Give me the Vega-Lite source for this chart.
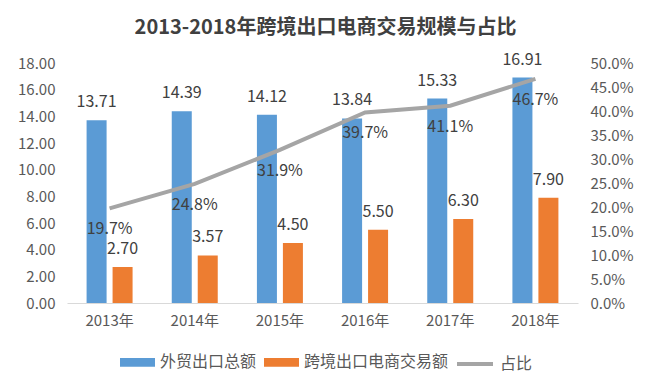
{
  "$schema": "https://vega.github.io/schema/vega-lite/v6.json",
  "width": 511,
  "height": 240,
  "autosize": {"type": "none"},
  "padding": {"left": 67, "top": 63, "right": 72, "bottom": 88},
  "background": "white",
  "title": {
    "text": "2013-2018年跨境出口电商交易规模与占比",
    "fontSize": 20,
    "fontWeight": "bold",
    "color": "#404040",
    "font": "Noto Sans CJK SC",
    "anchor": "middle",
    "offset": 14,
    "dx": 3
  },
  "datasets": {
    "bars": [
      {"year": "2013年", "series": "外贸出口总额", "value": 13.71},
      {"year": "2014年", "series": "外贸出口总额", "value": 14.39},
      {"year": "2015年", "series": "外贸出口总额", "value": 14.12},
      {"year": "2016年", "series": "外贸出口总额", "value": 13.84},
      {"year": "2017年", "series": "外贸出口总额", "value": 15.33},
      {"year": "2018年", "series": "外贸出口总额", "value": 16.91},
      {"year": "2013年", "series": "跨境出口电商交易额", "value": 2.70},
      {"year": "2014年", "series": "跨境出口电商交易额", "value": 3.57},
      {"year": "2015年", "series": "跨境出口电商交易额", "value": 4.50},
      {"year": "2016年", "series": "跨境出口电商交易额", "value": 5.50},
      {"year": "2017年", "series": "跨境出口电商交易额", "value": 6.30},
      {"year": "2018年", "series": "跨境出口电商交易额", "value": 7.90}
    ],
    "share": [
      {"year": "2013年", "share": 0.197},
      {"year": "2014年", "share": 0.248},
      {"year": "2015年", "share": 0.319},
      {"year": "2016年", "share": 0.397},
      {"year": "2017年", "share": 0.411},
      {"year": "2018年", "share": 0.467}
    ]
  },
  "encoding": {
    "x": {
      "field": "year",
      "type": "nominal",
      "sort": null,
      "scale": {"paddingInner": 0.46, "paddingOuter": 0.23},
      "axis": {
        "title": null,
        "labelAngle": 0,
        "ticks": false,
        "domainColor": "#D9D9D9",
        "domainWidth": 1,
        "labelPadding": 10,
        "labelFontSize": 15,
        "labelColor": "#595959",
        "labelFont": "Noto Sans CJK SC"
      }
    }
  },
  "layer": [
    {
      "data": {"name": "bars"},
      "encoding": {
        "xOffset": {"field": "series", "type": "nominal", "sort": null, "scale": {"paddingInner": 0.23, "paddingOuter": 0}},
        "y": {
          "field": "value",
          "type": "quantitative",
          "scale": {"domain": [0, 18], "nice": false},
          "axis": {
            "title": null,
            "values": [0, 2, 4, 6, 8, 10, 12, 14, 16, 18],
            "tickCount": 12,
            "format": ".2f",
            "grid": false,
            "ticks": false,
            "domain": false,
            "labelOverlap": false,
            "labelPadding": 12,
            "labelFontSize": 15,
            "labelColor": "#595959",
            "labelFont": "Noto Sans CJK SC"
          }
        }
      },
      "layer": [
        {
          "mark": {"type": "bar"},
          "encoding": {
            "fill": {
              "field": "series",
              "type": "nominal",
              "sort": null,
              "scale": {"domain": ["外贸出口总额", "跨境出口电商交易额"], "range": ["#5B9BD5", "#ED7D31"]},
              "legend": {
                "title": null,
                "orient": "none",
                "direction": "horizontal",
                "legendX": 53,
                "legendY": 281.5,
                "padding": 0,
                "symbolType": "M-1,-0.25H1V0.25H-1Z",
                "symbolSize": 1225,
                "symbolStrokeWidth": 0,
                "labelOffset": 5,
                "columnPadding": 7,
                "labelFontSize": 16,
                "labelColor": "#595959",
                "labelFont": "Noto Sans CJK SC",
                "labelLimit": 300
              }
            }
          }
        },
        {
          "mark": {"type": "text", "dy": -13, "baseline": "alphabetic", "fontSize": 16, "color": "#404040", "font": "Noto Sans CJK SC"},
          "encoding": {
            "text": {"field": "value", "type": "quantitative", "format": ".2f"}
          }
        }
      ]
    },
    {
      "data": {"name": "share"},
      "encoding": {
        "y": {
          "field": "share",
          "type": "quantitative",
          "scale": {"domain": [0, 0.5], "nice": false},
          "axis": {
            "orient": "right",
            "title": null,
            "values": [0, 0.05, 0.1, 0.15, 0.2, 0.25, 0.3, 0.35, 0.4, 0.45, 0.5],
            "tickCount": 12,
            "format": ".1%",
            "grid": false,
            "ticks": false,
            "domain": false,
            "labelOverlap": false,
            "labelPadding": 12,
            "labelFontSize": 15,
            "labelColor": "#595959",
            "labelFont": "Noto Sans CJK SC"
          }
        }
      },
      "layer": [
        {
          "mark": {"type": "line", "strokeWidth": 4},
          "encoding": {
            "stroke": {
              "datum": "占比",
              "scale": {"domain": ["占比"], "range": ["#A5A5A5"]},
              "legend": {
                "title": null,
                "orient": "none",
                "direction": "horizontal",
                "legendX": 388,
                "legendY": 281,
                "padding": 0,
                "symbolType": "stroke",
                "symbolSize": 1296,
                "symbolStrokeWidth": 4,
                "labelOffset": 5,
                "labelFontSize": 16,
                "labelColor": "#595959",
                "labelFont": "Noto Sans CJK SC"
              }
            }
          }
        },
        {
          "mark": {"type": "text", "dy": 21, "baseline": "middle", "fontSize": 16, "color": "#404040", "font": "Noto Sans CJK SC"},
          "encoding": {
            "text": {"field": "share", "type": "quantitative", "format": ".1%"}
          }
        }
      ]
    }
  ],
  "resolve": {"scale": {"y": "independent"}},
  "config": {
    "view": {"stroke": null},
    "font": "Noto Sans CJK SC"
  }
}
